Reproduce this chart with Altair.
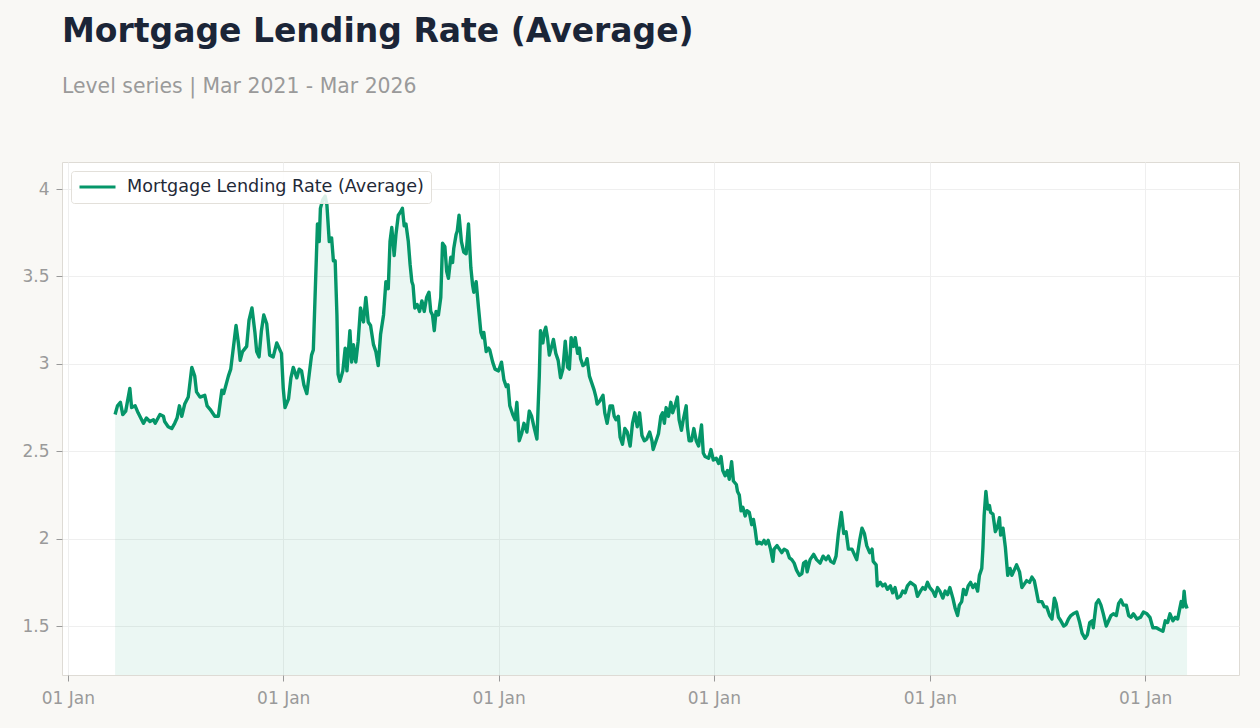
import altair as alt
import pandas as pd

SERIES = "Mortgage Lending Rate (Average)"
TITLE = "Mortgage Lending Rate (Average)"
SUBTITLE = "Level series | Mar 2021 - Mar 2026"

days_a = [80, 84, 89, 93, 98, 105, 108, 114, 119, 128, 133, 139, 145, 148, 156, 162, 164, 170, 176, 181,
          185, 189, 193, 198, 204, 210, 215, 218, 224, 232, 236, 241, 249, 255, 261, 264, 272, 276, 280, 285,
          289, 292, 296, 303, 307, 312, 317, 320, 324, 328, 332, 337, 342]
rate_a = [2.71, 2.76, 2.78, 2.71, 2.73, 2.86, 2.75, 2.76, 2.72, 2.66, 2.69, 2.67, 2.68, 2.66, 2.71, 2.70, 2.67, 2.64, 2.63, 2.66,
          2.69, 2.76, 2.70, 2.77, 2.81, 2.98, 2.93, 2.84, 2.81, 2.82, 2.76, 2.74, 2.70, 2.70, 2.85, 2.83, 2.93, 2.97, 3.08, 3.22,
          3.12, 3.02, 3.07, 3.10, 3.25, 3.32, 3.18, 3.07, 3.04, 3.19, 3.28, 3.23, 3.05]

days_b = [348, 354, 362, 365, 368, 374, 378, 382, 388, 392, 396, 400, 405, 409, 413, 416, 419, 423, 426, 428,
          432, 436, 439, 443, 447, 450, 453, 456, 458, 461, 466, 470, 473, 478, 481, 484, 488, 492, 496, 501,
          505, 509, 513, 518, 522, 526]
rate_b = [3.04, 3.12, 3.06, 2.86, 2.75, 2.80, 2.92, 2.98, 2.92, 2.97, 2.96, 2.88, 2.83, 2.94, 3.05, 3.08, 3.39, 3.80, 3.70, 3.89,
          3.94, 3.96, 3.91, 3.70, 3.72, 3.59, 3.59, 3.28, 2.94, 2.90, 2.96, 3.09, 2.96, 3.19, 3.01, 3.11, 3.01, 3.13, 3.32, 3.24,
          3.38, 3.24, 3.22, 3.11, 3.07, 2.99]

days_c = [530, 535, 539, 543, 546, 549, 553, 556, 560, 564, 567, 570, 573, 577, 580, 583, 585, 588, 592, 596,
          600, 604, 608, 612, 615, 618, 621, 624, 628, 632, 635, 639, 642, 645, 649, 652, 654, 658, 660, 663,
          667, 671, 675, 679, 683, 686, 688, 692, 696, 700, 703, 705, 709, 713]
rate_c = [3.17, 3.28, 3.47, 3.43, 3.70, 3.78, 3.62, 3.74, 3.85, 3.87, 3.89, 3.79, 3.80, 3.70, 3.57, 3.47, 3.45, 3.32, 3.34, 3.30,
          3.36, 3.30, 3.38, 3.41, 3.30, 3.28, 3.19, 3.30, 3.28, 3.38, 3.69, 3.67, 3.53, 3.49, 3.61, 3.58, 3.66, 3.74, 3.76, 3.85,
          3.70, 3.64, 3.63, 3.80, 3.55, 3.45, 3.41, 3.47, 3.32, 3.18, 3.15, 3.18, 3.07, 3.09]

days_d = [715, 720, 724, 730, 735, 739, 743, 746, 749, 754, 758, 761, 765, 769, 773, 778, 782, 786, 790, 795,
          799, 801, 805, 808, 810, 813, 816, 820, 823, 827, 831, 835, 839, 843, 847, 850, 853, 857, 860, 864,
          867, 869, 873, 877, 880, 884, 888, 892, 895, 897]
rate_d = [3.08, 3.01, 2.97, 2.96, 3.01, 2.91, 2.87, 2.88, 2.76, 2.71, 2.68, 2.78, 2.56, 2.60, 2.66, 2.61, 2.73, 2.70, 2.64, 2.57,
          2.93, 3.19, 3.12, 3.19, 3.21, 3.15, 3.05, 3.10, 3.14, 3.06, 3.02, 2.92, 2.97, 3.13, 2.98, 2.97, 3.15, 3.10, 3.15, 3.06,
          3.09, 3.03, 2.99, 3.00, 3.03, 2.93, 2.89, 2.85, 2.81, 2.77]

days_e = [902, 907, 910, 914, 919, 923, 926, 929, 933, 936, 940, 944, 948, 953, 957, 961, 965, 969, 973, 977,
          981, 986, 990, 992, 997, 1001, 1005, 1008, 1011, 1014, 1018, 1022, 1025, 1029, 1033, 1036, 1040, 1043, 1048, 1050,
          1053, 1057, 1061, 1065, 1069]
rate_e = [2.79, 2.82, 2.72, 2.66, 2.76, 2.76, 2.70, 2.68, 2.70, 2.58, 2.54, 2.63, 2.61, 2.53, 2.66, 2.72, 2.64, 2.72, 2.59, 2.56,
          2.57, 2.61, 2.56, 2.51, 2.56, 2.60, 2.70, 2.72, 2.66, 2.75, 2.70, 2.78, 2.72, 2.76, 2.81, 2.68, 2.62, 2.68, 2.76, 2.64,
          2.56, 2.56, 2.63, 2.56, 2.53]

days_f = [1074, 1077, 1080, 1086, 1090, 1094, 1099, 1103, 1107, 1110, 1114, 1118, 1121, 1125, 1128, 1133, 1135, 1138, 1141, 1144,
          1148, 1151, 1155, 1159, 1162, 1165, 1168, 1172, 1176, 1180, 1183, 1187, 1191, 1195, 1197, 1202, 1206, 1210, 1214, 1219,
          1223, 1227, 1231, 1235, 1240, 1244, 1247, 1251, 1253]
rate_f = [2.65, 2.49, 2.47, 2.46, 2.51, 2.45, 2.46, 2.43, 2.47, 2.39, 2.36, 2.39, 2.34, 2.44, 2.33, 2.31, 2.27, 2.25, 2.16, 2.18,
          2.13, 2.16, 2.15, 2.08, 2.11, 2.05, 1.97, 1.98, 1.97, 1.99, 1.97, 1.99, 1.94, 1.87, 1.94, 1.96, 1.94, 1.92, 1.94, 1.93,
          1.89, 1.88, 1.86, 1.82, 1.79, 1.80, 1.86, 1.87, 1.81]

days_g = [1258, 1264, 1269, 1275, 1280, 1285, 1289, 1293, 1298, 1302, 1306, 1311, 1315, 1319, 1323, 1329, 1333, 1337, 1342, 1346,
          1350, 1354, 1359, 1363, 1365, 1370, 1372, 1377, 1381, 1385, 1389, 1394, 1398, 1402, 1406, 1411, 1415, 1419, 1423, 1428,
          1432, 1436, 1440]
rate_g = [1.88, 1.91, 1.88, 1.86, 1.90, 1.88, 1.90, 1.87, 1.86, 1.90, 2.03, 2.15, 2.03, 2.04, 1.94, 1.94, 1.91, 1.88, 1.99, 2.06,
          2.03, 1.96, 1.92, 1.94, 1.87, 1.85, 1.73, 1.75, 1.73, 1.74, 1.71, 1.73, 1.69, 1.72, 1.66, 1.67, 1.70, 1.69, 1.73, 1.75,
          1.74, 1.73, 1.67]

days_h = [1445, 1449, 1453, 1457, 1461, 1466, 1470, 1474, 1478, 1483, 1487, 1491, 1495, 1500, 1504, 1508, 1511, 1515, 1518, 1522,
          1526, 1530, 1534, 1538, 1542, 1545, 1549, 1551, 1553, 1556, 1559, 1562, 1564, 1568, 1572, 1576, 1579, 1581, 1585, 1589,
          1593, 1597, 1600, 1604, 1608, 1613, 1617, 1621, 1625, 1630]
rate_h = [1.70, 1.72, 1.71, 1.75, 1.72, 1.70, 1.67, 1.72, 1.70, 1.66, 1.70, 1.68, 1.72, 1.66, 1.60, 1.56, 1.62, 1.64, 1.71, 1.68,
          1.73, 1.75, 1.72, 1.74, 1.70, 1.79, 1.83, 1.95, 2.13, 2.27, 2.17, 2.19, 2.15, 2.14, 2.04, 2.07, 2.12, 2.02, 2.06, 1.95,
          1.79, 1.83, 1.79, 1.82, 1.85, 1.81, 1.72, 1.74, 1.76, 1.75]

days_i = [1634, 1638, 1641, 1645, 1651, 1655, 1659, 1664, 1668, 1672, 1675, 1679, 1683, 1688, 1692, 1696, 1700, 1704, 1710, 1715,
          1719, 1724, 1728, 1732, 1736, 1738, 1743, 1747, 1751, 1755, 1760, 1764, 1768, 1772, 1777, 1781, 1785, 1789, 1794, 1798]
rate_i = [1.78, 1.76, 1.71, 1.64, 1.64, 1.61, 1.61, 1.56, 1.54, 1.66, 1.63, 1.55, 1.53, 1.50, 1.51, 1.54, 1.56, 1.57, 1.58, 1.52,
          1.46, 1.43, 1.45, 1.52, 1.53, 1.49, 1.63, 1.65, 1.62, 1.57, 1.50, 1.53, 1.56, 1.57, 1.56, 1.63, 1.65, 1.62, 1.62, 1.56]

days_j = [1802, 1806, 1812, 1818, 1823, 1829, 1834, 1839, 1845, 1850, 1856, 1860, 1864, 1868, 1873, 1877, 1881, 1884, 1887, 1890,
          1892, 1894, 1897]
rate_j = [1.55, 1.57, 1.54, 1.55, 1.58, 1.57, 1.55, 1.49, 1.49, 1.48, 1.47, 1.53, 1.52, 1.57, 1.53, 1.55, 1.54, 1.59, 1.64, 1.61,
          1.70, 1.63, 1.60]

y_ticks = [1.5, 2, 2.5, 3, 3.5, 4]
x_tick_years = [2021, 2022, 2023, 2024, 2025, 2026]

day_offsets = days_a + days_b + days_c + days_d + days_e + days_f + days_g + days_h + days_i + days_j
rates = rate_a + rate_b + rate_c + rate_d + rate_e + rate_f + rate_g + rate_h + rate_i + rate_j
assert len(day_offsets) == len(rates)

base = pd.Timestamp("2021-01-01")
dates = [(base + pd.Timedelta(days=d)).strftime("%Y-%m-%d") for d in day_offsets]
df = pd.DataFrame({"date": dates, "rate": rates, "series": SERIES})

GREEN = "#059669"
FONT = "DejaVu Sans"

x_enc = alt.X(
    "date:T",
    scale=alt.Scale(
        type="utc",
        domain=[alt.DateTime(year=2020, month=12, date=22, utc=True),
                alt.DateTime(year=2026, month=6, date=9, utc=True)],
        nice=False,
    ),
    axis=alt.Axis(
        values=[alt.DateTime(year=y, month=1, date=1, utc=True) for y in x_tick_years],
        format="%d %b", title=None, labelPadding=9,
    ),
)
y_enc = alt.Y(
    "rate:Q",
    scale=alt.Scale(domain=[1.22, 4.155], nice=False, zero=False),
    axis=alt.Axis(values=y_ticks, format="~g", title=None, labelPadding=7),
)

area = alt.Chart(df).mark_area(color=GREEN, opacity=0.08, clip=True).encode(x=x_enc, y=y_enc)
line = alt.Chart(df).mark_line(strokeWidth=3.4, strokeJoin="round").encode(
    x=x_enc,
    y=y_enc,
    color=alt.Color(
        "series:N",
        scale=alt.Scale(range=[GREEN]),
        legend=alt.Legend(
            title=None, orient="top-left", offset=9, padding=7,
            symbolType="stroke", symbolSize=1296, symbolStrokeWidth=3, clipHeight=18,
            labelFontSize=17.6, labelFont=FONT, labelColor="#1f2937", labelOffset=10, labelLimit=500,
            fillColor="rgba(255,255,255,0.85)", strokeColor="#e3e0da", cornerRadius=3,
        ),
    ),
)

chart = (
    alt.layer(area, line)
    .properties(
        width=1177, height=513,
        title=alt.TitleParams(
            text=TITLE, subtitle=SUBTITLE, anchor="start", frame="group",
            font=FONT, fontSize=33, fontWeight="bold", color="#1b2537",
            subtitleFont=FONT, subtitleFontSize=20.4, subtitleColor="#9a9a9a",
            subtitlePadding=28, offset=65,
        ),
        padding={"left": 62, "top": 162, "right": 21, "bottom": 53},
        autosize=alt.AutoSizeParams(type="none"),
        background="#f9f8f5",
    )
    .configure_view(stroke="#dedbd5", fill="#ffffff", strokeWidth=1)
    .configure_axis(
        domain=False, grid=True, gridColor="#efefef", gridWidth=1,
        ticks=True, tickColor="#999999", tickSize=6,
        labelFont=FONT, labelFontSize=17, labelColor="#9a9a9a",
    )
)

chart.save("out.html", embed_options={"renderer": "svg", "actions": False})
